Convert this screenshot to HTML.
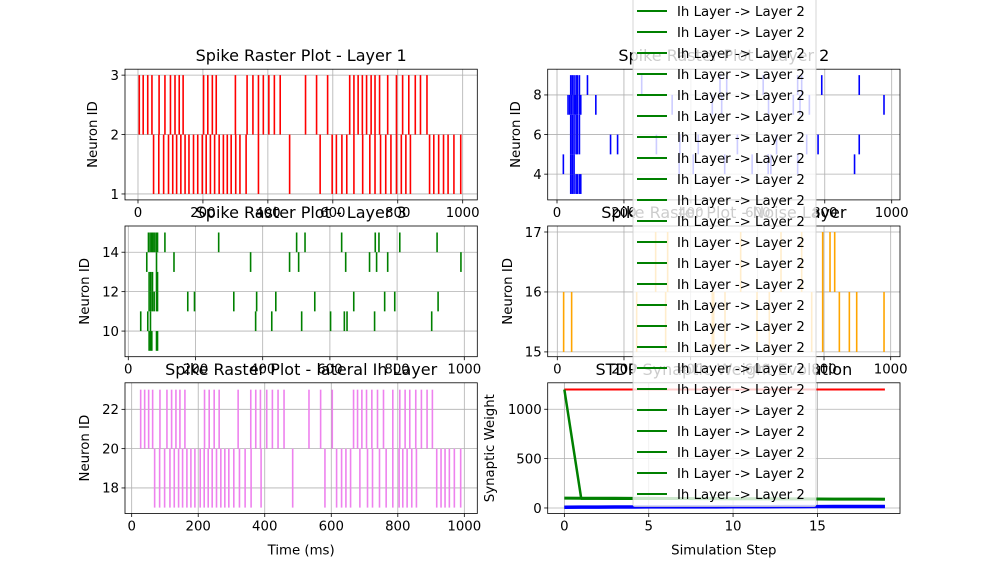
<!DOCTYPE html>
<html><head><meta charset="utf-8">
<style>
html,body{margin:0;padding:0;background:#fff;}
svg{display:block;font-family:"DejaVu Sans","Liberation Sans",sans-serif;}
</style></head>
<body>
<svg id="fig" width="1000" height="577" viewBox="0 0 1000 577" xmlns="http://www.w3.org/2000/svg"></svg>
<script>
// ---- Data ----
const l1Upper = [4,16,30,43,65,83,100,114,127,139,202,215,229,241,300,336,354,371,386,403,420,438,516,550,584,652,665,678,691,704,718,730,744,769,796,815,834,854,870,890];
const l1Lower = [48,64,79,94,107,119,132,145,157,171,184,198,210,223,236,250,263,275,287,301,314,333,371,467,561,598,611,628,643,665,692,714,730,747,763,779,796,811,825,839,898,911,926,941,955,973,994];

const l2Row8 = [41,46,51,57,61,67,91,253,487,507,616,719,731,791,903];
const l2Row7 = [33,38,43,48,53,57,61,67,71,116,344,464,492,632,706,726,754,977];
const l2Row6 = [41,46,51,57,61,67];
const l2Row5 = [41,46,51,57,61,67,160,181,297,367,422,539,656,746,780,903];
const l2Row4 = [19,41,46,51,365,407,501,583,631,639,719,889];
const l2Row3 = [41,46,51,57,61,67,71];

const l3Row14 = [60,65,70,74,79,84,87,109,269,501,526,635,735,746,808,919];
const l3Row13 = [55,84,136,364,480,507,647,718,739,772,990];
const l3Row12 = [62,67,72,84,87];
const l3Row11 = [62,67,72,77,84,87,177,197,314,382,439,555,671,763,793,922];
const l3Row10 = [37,58,66,379,427,516,602,643,651,733,903];
const l3Row9 = [62,66,70,84,87];

const noiseUpper = [295,331,550,671,733,796,818,832];
const noiseLower = [19,43,238,325,465,469,503,599,636,763,796,846,876,898,980];

const latUpper = [27,39,51,63,85,106,120,133,145,160,219,233,248,263,320,358,373,387,406,423,440,458,533,568,603,667,679,692,706,722,739,757,785,806,822,836,854,871,888,904];
const latLower = [69,84,99,115,128,141,153,166,178,190,206,218,230,242,255,268,280,292,307,324,341,359,389,484,581,616,631,644,658,686,709,724,745,765,785,804,815,828,842,856,917,930,942,955,970,989];

const steps = [0,1,2,3,4,5,6,7,8,9,10,11,12,13,14,15,16,17,18,19];
const wRed   = [1200,1200,1200,1200,1200,1200,1200,1200,1200,1200,1200,1200,1200,1200,1200,1200,1200,1200,1200,1200];
const wGreenA= [1200,95,95,94,94,94,93,93,93,92,92,92,91,91,91,90,90,90,89,89];
const wGreenB= [100,99,98,98,97,97,96,96,95,95,94,93,93,92,92,91,90,90,89,88];
const wBlue  = [5,6,6,7,7,8,8,8,9,9,10,10,10,11,11,12,12,12,13,13];
const wBlueB = [10,11,11,12,12,13,13,14,14,14,15,15,15,16,16,16,17,17,17,18];

const rasterTicks = [0,200,400,600,800,1000];
const stepTicks = [0,5,10,15];

// ---- Helpers ----
const NS="http://www.w3.org/2000/svg";
const svg=document.getElementById('fig');
function mk(tag,attrs,parent){const e=document.createElementNS(NS,tag);for(const k in attrs)e.setAttribute(k,attrs[k]);(parent||svg).appendChild(e);return e;}
function axis(px0,px1,py0,py1,xmin,xmax,ymin,ymax){
  return {px0,px1,py0,py1,
    x:v=>px0+(v-xmin)/(xmax-xmin)*(px1-px0),
    y:v=>py1-(v-ymin)/(ymax-ymin)*(py1-py0)};
}
function drawAxes(ax,name,xt,yt,title,xlabel,ylabel){
  const g=mk('g',{});
  
  
  for(const t of xt){const X=ax.x(t);
    const l=mk('line',{x1:X,x2:X,y1:ax.py0,y2:ax.py1,stroke:'#b0b0b0','stroke-width':0.8},g);
    
    mk('line',{x1:X,x2:X,y1:ax.py1,y2:ax.py1+3.5,stroke:'#000','stroke-width':0.8},g);
    const tx=mk('text',{x:X,y:ax.py1+17,'font-size':13.3,'text-anchor':'middle',fill:'#000'},g);tx.textContent=t;
    }
  for(const t of yt){const Y=ax.y(t);
    const l=mk('line',{x1:ax.px0,x2:ax.px1,y1:Y,y2:Y,stroke:'#b0b0b0','stroke-width':0.8},g);
    
    mk('line',{x1:ax.px0-3.5,x2:ax.px0,y1:Y,y2:Y,stroke:'#000','stroke-width':0.8},g);
    const tx=mk('text',{x:ax.px0-6,y:Y+4.8,'font-size':13.3,'text-anchor':'end',fill:'#000'},g);tx.textContent=t;
    }
  const tt=mk('text',{x:(ax.px0+ax.px1)/2,y:ax.py0-8,'font-size':16,'text-anchor':'middle',fill:'#000'},svg);tt.textContent=title;
  
  if(xlabel){const t=mk('text',{x:(ax.px0+ax.px1)/2,y:ax.py1+41,'font-size':13.3,'text-anchor':'middle',fill:'#000'},g);t.textContent=xlabel;
    }
  if(ylabel){const cx=ylabel[1],cy=(ax.py0+ax.py1)/2;
    const t=mk('text',{x:cx,y:cy,'font-size':13.3,'text-anchor':'middle',fill:'#000',transform:`rotate(-90 ${cx} ${cy})`},g);t.textContent=ylabel[0];
    }
  return g;
}
function frame(ax){const r=mk('rect',{x:ax.px0,y:ax.py0,width:ax.px1-ax.px0,height:ax.py1-ax.py0,fill:'none',stroke:'#000','stroke-width':0.8});
  }
function spikes(ax,times,lo,hi,color){
  for(const t of times){const X=ax.x(t);
    const l=mk('line',{x1:X,x2:X,y1:ax.y(lo),y2:ax.y(hi),stroke:color,'stroke-width':1.6});
    
    }
}
function series(ax,xs,ys,color,w){
  const p=mk('polyline',{points:xs.map((s,i)=>ax.x(s)+','+ax.y(ys[i])).join(' '),fill:'none',stroke:color,'stroke-width':w,'stroke-linejoin':'round'});
  
  
}

// ---- Panels ----
const TOP1=69.2,BOT1=199.9,TOP2=226,BOT2=356.7,TOP3=382.8,BOT3=513.5;
const L0=125,L1=477.3,R0=547.7,R1=900;

const a1=axis(L0,L1,TOP1,BOT1,-40,1045,0.9,3.1);
drawAxes(a1,'raster-layer1',rasterTicks,[1,2,3],'Spike Raster Plot - Layer 1',null,['Neuron ID',97]);
spikes(a1,l1Upper,2,3,'red');spikes(a1,l1Lower,1,2,'red');frame(a1);

const a2=axis(R0,R1,TOP1,BOT1,-27.8,1024.8,2.7,9.3);
drawAxes(a2,'raster-layer2',rasterTicks,[4,6,8],'Spike Raster Plot - Layer 2',null,['Neuron ID',520]);
spikes(a2,l2Row8,8,9,'blue');spikes(a2,l2Row7,7,8,'blue');spikes(a2,l2Row6,6,7,'blue');
spikes(a2,l2Row5,5,6,'blue');spikes(a2,l2Row4,4,5,'blue');spikes(a2,l2Row3,3,4,'blue');frame(a2);

const a3=axis(L0,L1,TOP2,BOT2,-9.8,1038.7,8.7,15.33);
drawAxes(a3,'raster-layer3',rasterTicks,[10,12,14],'Spike Raster Plot - Layer 3',null,['Neuron ID',89]);
spikes(a3,l3Row14,14,15,'green');spikes(a3,l3Row13,13,14,'green');spikes(a3,l3Row12,12,13,'green');
spikes(a3,l3Row11,11,12,'green');spikes(a3,l3Row10,10,11,'green');spikes(a3,l3Row9,9,10,'green');frame(a3);

const a4=axis(R0,R1,TOP2,BOT2,-28.8,1027.9,14.92,17.1);
drawAxes(a4,'raster-noise-layer',rasterTicks,[15,16,17],'Spike Raster Plot - Noise Layer',null,['Neuron ID',512]);
spikes(a4,noiseUpper,16,17,'orange');spikes(a4,noiseLower,15,16,'orange');frame(a4);

const a5=axis(L0,L1,TOP3,BOT3,-20.1,1039,16.7,23.35);
drawAxes(a5,'raster-lateral-ih-layer',rasterTicks,[18,20,22],'Spike Raster Plot - lateral Ih Layer','Time (ms)',['Neuron ID',89]);
spikes(a5,latUpper,20,23,'violet');spikes(a5,latLower,17,20,'violet');frame(a5);

const a6=axis(R0,R1,TOP3,BOT3,-0.988,19.895,-56,1268);
drawAxes(a6,'stdp-weights',stepTicks,[0,500,1000],'STDP Synaptic Weight Evolution','Simulation Step',['Synaptic Weight',494]);
series(a6,steps,wRed,'red',2);
series(a6,steps,wBlueB,'blue',3);
series(a6,steps,wBlue,'blue',3);
series(a6,steps,wGreenB,'green',3);
series(a6,steps,wGreenA,'green',2.5);
frame(a6);

// ---- Legend ----
const lg=mk('g',{});


mk('rect',{x:633,y:-20,width:183,height:526.5,rx:2,fill:'#fff','fill-opacity':0.8,stroke:'#cccccc','stroke-width':0.8},lg);
for(let i=0;i<24;i++){
  const cy=11+21*i;
  const e=mk('g',{},lg);
  
  
  mk('line',{x1:637,x2:667,y1:cy,y2:cy,stroke:'green','stroke-width':2},e);
  const t=mk('text',{x:677,y:cy+4.8,'font-size':13.3,fill:'#000'},e);
  t.textContent='Ih Layer -> Layer 2';
}
</script>
</body></html>
